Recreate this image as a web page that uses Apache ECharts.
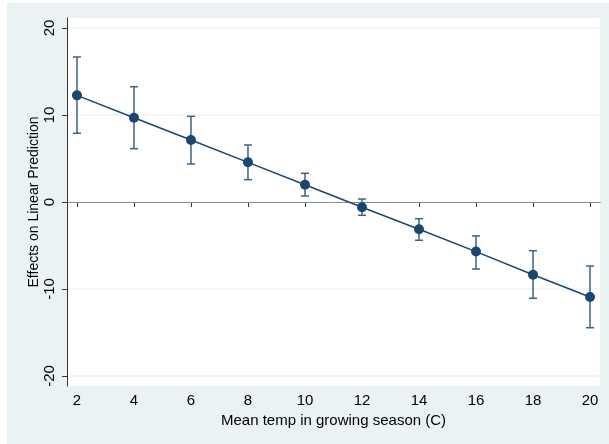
<!DOCTYPE html>
<html><head><meta charset="utf-8">
<script src="https://cdn.jsdelivr.net/npm/echarts@6/dist/echarts.min.js"></script>
<style>html,body{margin:0;padding:0;background:#fff}#c{width:609px;height:444px}</style>
</head><body><div id="c"></div>
<script>
const temps = [2, 4, 6, 8, 10, 12, 14, 16, 18, 20];
const effects = [12.26, 9.69, 7.13, 4.56, 1.99, -0.61, -3.14, -5.7, -8.36, -10.92];
const ciLower = [7.9, 6.13, 4.37, 2.57, 0.69, -1.53, -4.4, -7.7, -11.07, -14.45];
const ciUpper = [16.67, 13.25, 9.85, 6.55, 3.3, 0.34, -1.92, -3.9, -5.6, -7.36];
const xTicks = [2, 4, 6, 8, 10, 12, 14, 16, 18, 20];
const yTicks = [-20, -10, 0, 10, 20];

const navy = '#1a476f';
const font = 'Liberation Sans, Arial, sans-serif';
const chart = echarts.init(document.getElementById('c'), null, {renderer: 'canvas'});
chart.setOption({
  animation: false,
  backgroundColor: '#ffffff',
  graphic: [
    {type: 'rect', z: -10, shape: {x: 7, y: 3, width: 602, height: 441}, style: {fill: '#eaf2f3'}},
    {type: 'rect', z: -9, shape: {x: 67, y: 18, width: 533, height: 368}, style: {fill: '#ffffff'}}
  ],
  grid: {left: 67, top: 18, right: 9, bottom: 58},
  xAxis: {
    type: 'value', min: 1.65, max: 20.35,
    name: 'Mean temp in growing season (C)', nameLocation: 'middle', nameGap: 27,
    nameMoveOverlap: false,
    nameTextStyle: {fontFamily: font, fontSize: 15, color: '#000'},
    axisLine: {show: true, lineStyle: {color: '#333', width: 1}},
    axisTick: {show: true, length: 5, lineStyle: {color: '#333'}, customValues: xTicks},
    axisLabel: {fontFamily: font, fontSize: 15, color: '#000', margin: 7, customValues: xTicks},
    splitLine: {show: false}
  },
  yAxis: {
    type: 'value', min: -21.15, max: 21.15,
    name: 'Effects on Linear Prediction', nameLocation: 'middle', nameGap: 26, nameRotate: 90,
    nameMoveOverlap: false,
    nameTextStyle: {fontFamily: font, fontSize: 14, color: '#000'},
    axisLine: {show: true, lineStyle: {color: '#333', width: 1}},
    axisTick: {show: true, length: 5, lineStyle: {color: '#333'}, customValues: yTicks},
    axisLabel: {fontFamily: font, fontSize: 15, color: '#000', margin: 10, rotate: 90, customValues: yTicks},
    splitLine: {show: false}
  },
  series: [
    {
      type: 'custom', z: 1, silent: true,
      data: yTicks.map(v => [1.65, v]),
      renderItem: function (params, api) {
        const p = api.coord([api.value(0), api.value(1)]);
        const cs = params.coordSys;
        return {type: 'line', shape: {x1: cs.x + 1, y1: p[1], x2: cs.x + cs.width, y2: p[1]},
                style: {stroke: '#e3eeef', lineWidth: 1}};
      }
    },
    {
      type: 'custom', z: 3,
      data: temps.map((t, i) => [t, ciLower[i], ciUpper[i]]),
      renderItem: function (params, api) {
        const lo = api.coord([api.value(0), api.value(1)]);
        const hi = api.coord([api.value(0), api.value(2)]);
        const w = 4;
        const st = {stroke: '#3d6283', lineWidth: 1.5};
        return {type: 'group', children: [
          {type: 'line', shape: {x1: lo[0], y1: lo[1], x2: hi[0], y2: hi[1]}, style: st},
          {type: 'line', shape: {x1: lo[0]-w, y1: lo[1], x2: lo[0]+w, y2: lo[1]}, style: st},
          {type: 'line', shape: {x1: hi[0]-w, y1: hi[1], x2: hi[0]+w, y2: hi[1]}, style: st}
        ]};
      }
    },
    {
      type: 'line', z: 4,
      data: temps.map((t, i) => [t, effects[i]]),
      symbol: 'circle', symbolSize: 10,
      itemStyle: {color: navy},
      lineStyle: {color: navy, width: 1.5}
    }
  ]
});
</script></body></html>
